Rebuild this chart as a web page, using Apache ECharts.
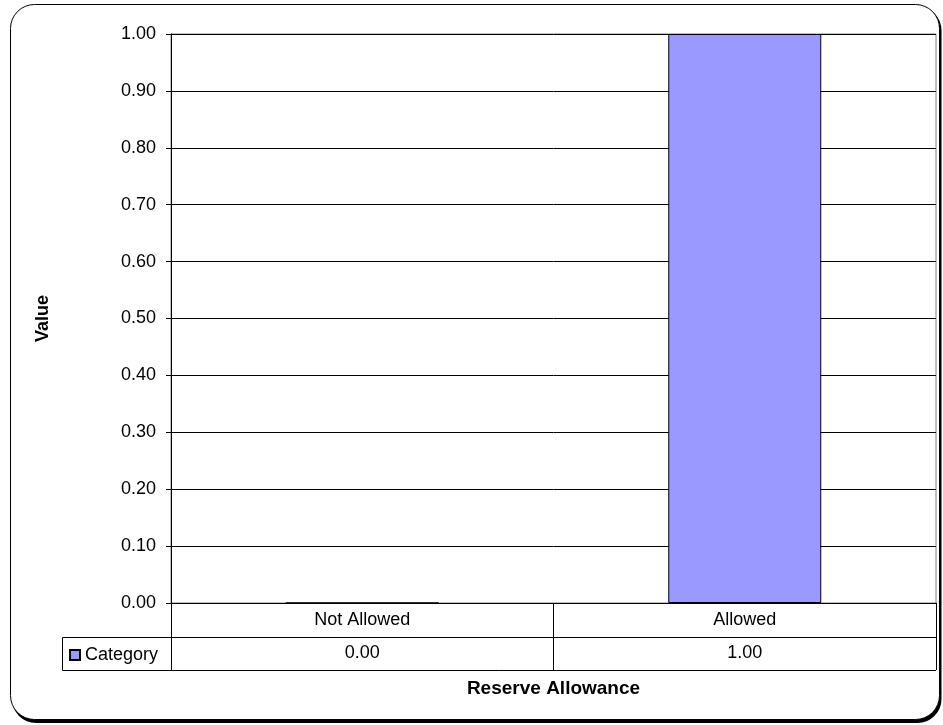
<!DOCTYPE html>
<html>
<head>
<meta charset="utf-8">
<script src="https://cdn.jsdelivr.net/npm/echarts@6/dist/echarts.min.js"></script>
<style>
html,body{margin:0;padding:0;background:#fff;}
#chart{width:943px;height:725px;}
</style>
</head>
<body>
<div id="chart"></div>
<script>
// ---- data ----
var categories = ['Not Allowed', 'Allowed'];
var seriesName = 'Category';
var values = [0.00, 1.00];
var yTicks = [0, 0.1, 0.2, 0.3, 0.4, 0.5, 0.6, 0.7, 0.8, 0.9, 1.0];
var xTitle = 'Reserve Allowance';
var yTitle = 'Value';

// ---- layout ----
var W = 943, H = 725;
var gridLeft = 171, gridRight = 936, gridTop = 34, gridBottom = 603;
var rowH = 34;
var legendCellLeft = 62;
var FONT = 'Arial, "Liberation Sans", sans-serif';
var FS = 18;

var chart = echarts.init(document.getElementById('chart'), null, {renderer: 'canvas'});

var option = {
  backgroundColor: '#fff',
  animation: false,
  textStyle: {fontFamily: FONT, color: '#000'},
  grid: {
    left: gridLeft, right: W - gridRight, top: gridTop, bottom: H - gridBottom,
    show: true, borderColor: '#808080', borderWidth: 1, backgroundColor: 'transparent'
  },
  legend: {
    data: [seriesName],
    left: legendCellLeft + 7, top: gridBottom + rowH + 9,
    itemWidth: 10, itemHeight: 10, itemGap: 4,
    icon: 'rect',
    textStyle: {fontFamily: FONT, fontSize: FS, color: '#000'},
    padding: 0
  },
  xAxis: [
    {
      type: 'category', data: categories, position: 'bottom', gridIndex: 0,
      boundaryGap: true,
      axisLine: {show: true, lineStyle: {color: '#000', width: 1}},
      axisTick: {show: true, alignWithLabel: false, length: rowH, lineStyle: {color: '#000'}},
      axisLabel: {show: true, fontSize: FS, color: '#000', margin: 8, fontFamily: FONT},
      splitLine: {show: false},
      name: xTitle, nameLocation: 'middle', nameGap: 76,
      nameTextStyle: {fontSize: 19, fontWeight: 'bold', color: '#000', fontFamily: FONT}
    },
    {
      type: 'category', data: categories, position: 'bottom', offset: rowH, gridIndex: 0,
      boundaryGap: true,
      axisLine: {show: true, lineStyle: {color: '#000', width: 1}},
      axisTick: {show: true, length: rowH - 1, lineStyle: {color: '#000'}},
      axisLabel: {
        show: true, fontSize: FS, color: '#000', margin: 7, fontFamily: FONT,
        formatter: function (v, i) { return values[i].toFixed(2); }
      },
      splitLine: {show: false}
    }
  ],
  yAxis: {
    type: 'value', min: yTicks[0], max: yTicks[yTicks.length - 1], interval: 0.1,
    axisLine: {show: true, lineStyle: {color: '#000', width: 1}},
    axisTick: {show: true, length: 5, lineStyle: {color: '#000'}},
    axisLabel: {fontSize: FS, color: '#000', margin: 15, fontFamily: FONT,
      formatter: function (v) { return v.toFixed(2); }},
    splitLine: {show: true, lineStyle: {color: '#000', width: 1}},
    name: yTitle, nameLocation: 'middle', nameGap: 119, nameRotate: 90,
    nameTextStyle: {fontSize: FS, fontWeight: 'bold', color: '#000', fontFamily: FONT}
  },
  series: [{
    name: seriesName, type: 'bar', xAxisIndex: 0, data: values,
    barWidth: '40%',
    itemStyle: {color: '#9999FF', borderColor: '#000', borderWidth: 1}
  }],
  graphic: [
    // outer rounded frame with shadow
    {type: 'rect', z: -10, silent: true, shape: {x: 12, y: 6.5, width: 929.5, height: 716.5, r: 24},
      style: {fill: '#000'}},
    {type: 'rect', z: -9, silent: true, shape: {x: 10.5, y: 4.5, width: 929, height: 715, r: 24},
      style: {fill: '#fff', stroke: '#000', lineWidth: 1}},
    // legend cell of the data table
    {type: 'polyline', z: 5, silent: true,
      shape: {points: [[gridLeft, gridBottom + rowH + 0.5], [legendCellLeft + 0.5, gridBottom + rowH + 0.5],
                       [legendCellLeft + 0.5, gridBottom + 2*rowH - 0.5], [gridRight, gridBottom + 2*rowH - 0.5]]},
      style: {stroke: '#000', lineWidth: 1, fill: null}}
  ]
};
chart.setOption(option);
</script>
</body>
</html>
